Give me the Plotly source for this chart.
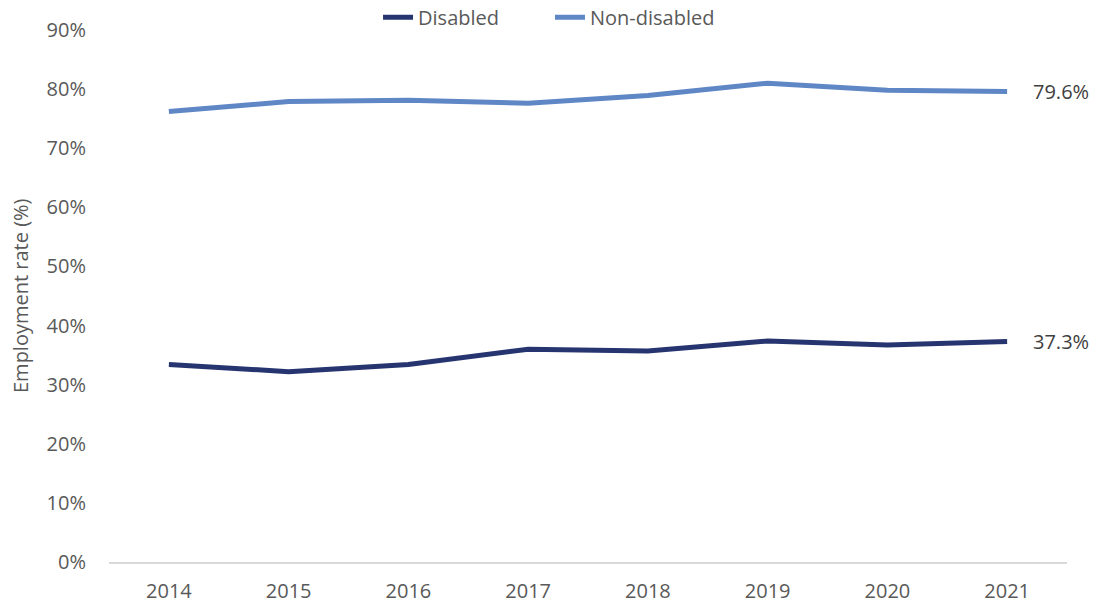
import plotly.graph_objects as go

years = ["2014", "2015", "2016", "2017", "2018", "2019", "2020", "2021"]
disabled = [33.4, 32.2, 33.4, 36.0, 35.7, 37.4, 36.7, 37.3]
non_disabled = [76.2, 77.9, 78.1, 77.6, 78.9, 81.0, 79.8, 79.6]
y_ticks = [0, 10, 20, 30, 40, 50, 60, 70, 80, 90]
y_tick_labels = [f"{v}%" for v in y_ticks]
y_title = "Employment rate (%)"

FONT = "Open Sans"
TXT = "#595959"
FS = 20

series = [
    ("Disabled", disabled, "#263570", "legend", 0.3398),
    ("Non-disabled", non_disabled, "#5f87c6", "legend2", 0.4977),
]

fig = go.Figure()
legend_layout = {}
for name, vals, color, leg, lx in series:
    fig.add_trace(go.Scatter(
        x=years, y=vals, name=name, mode="lines",
        line=dict(color=color, width=5),
        cliponaxis=False, legend=leg,
    ))
    # category axis: position the end label by the last category's index
    fig.add_annotation(
        x=len(years) - 1, y=vals[-1], text=f"{vals[-1]:.1f}%",
        xanchor="left", yanchor="middle", xshift=24, showarrow=False,
        font=dict(family=FONT, size=FS, color="#404040"),
    )
    legend_layout[leg] = dict(
        orientation="h", xref="container", x=lx, xanchor="left",
        y=1.024, yanchor="middle",
        font=dict(family=FONT, size=FS, color=TXT),
        bgcolor="rgba(0,0,0,0)",
    )

# y-axis title as a rotated annotation (multiple legends misplace axis titles)
fig.add_annotation(
    xref="paper", yref="paper", x=-0.0929, y=0.5, text=y_title,
    textangle=-90, xanchor="center", yanchor="middle", showarrow=False,
    font=dict(family=FONT, size=FS, color=TXT),
)

fig.update_layout(
    width=1089, height=596,
    margin=dict(l=101, r=30, t=22, b=42, autoexpand=False),
    paper_bgcolor="white", plot_bgcolor="white",
    font=dict(family=FONT, size=FS, color=TXT),
    showlegend=True,
    **legend_layout,
)
fig.update_xaxes(
    type="category", range=[-0.5, 7.5],
    showgrid=False, showline=True, linecolor="#d9d9d9", linewidth=1.5,
    ticks="", tickfont=dict(family=FONT, size=FS, color=TXT),
    ticklabelstandoff=10,
    zeroline=False,
)
fig.update_yaxes(
    range=[0, 90], tickvals=y_ticks, ticktext=y_tick_labels,
    showgrid=False, zeroline=False, showline=False, ticks="",
    tickfont=dict(family=FONT, size=FS, color=TXT),
    ticklabelstandoff=22,
)

fig.write_html("out.html")
